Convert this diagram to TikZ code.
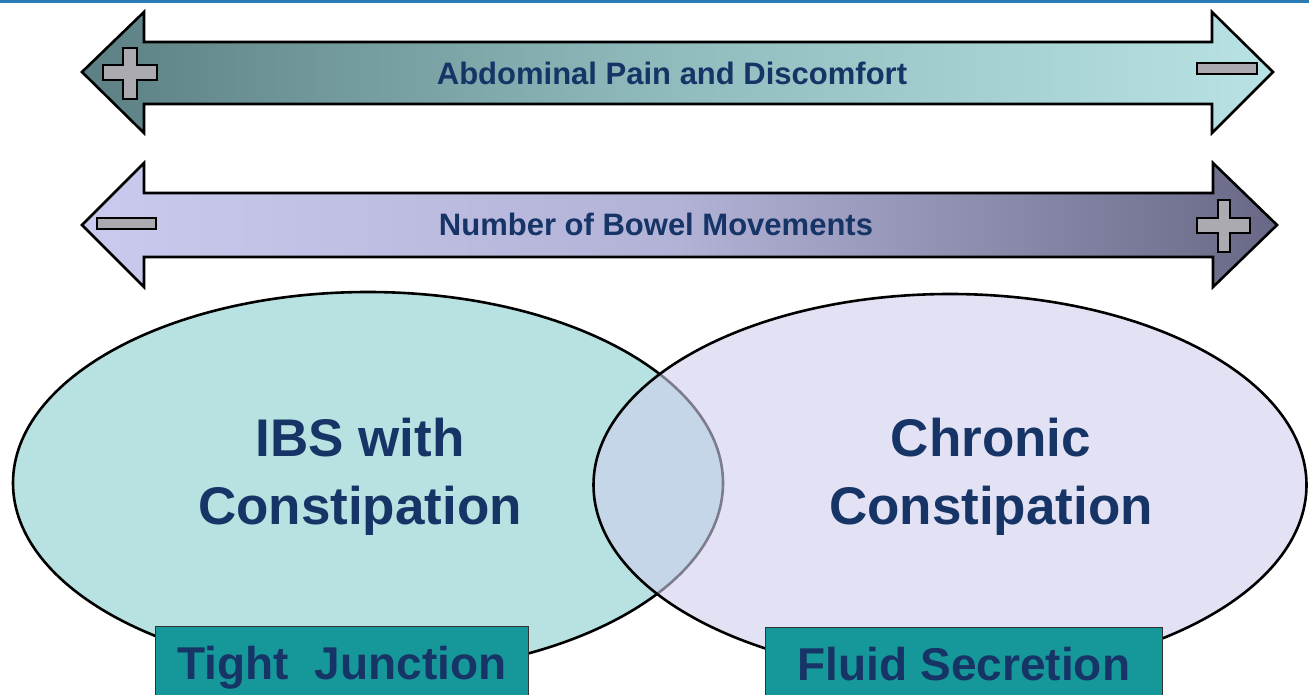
\documentclass[tikz,border=0pt]{standalone}
\usepackage{fontspec}
\setmainfont{Liberation Sans}
\usetikzlibrary{shapes.geometric}

\definecolor{navytext}{RGB}{22,52,102}
\definecolor{topline}{RGB}{42,122,182}
\definecolor{painleft}{RGB}{92,128,132}
\definecolor{painmid}{RGB}{145,188,190}
\definecolor{painright}{RGB}{184,226,228}
\definecolor{bowelleft}{RGB}{202,202,238}
\definecolor{bowelmid}{RGB}{178,178,214}
\definecolor{bowelright}{RGB}{104,104,134}
\definecolor{ibsfill}{RGB}{184,225,225}
\definecolor{ccfill}{RGB}{207,207,237}
\definecolor{signfill}{RGB}{170,170,176}
\definecolor{teal box}{RGB}{22,152,154}

\begin{document}
\begin{tikzpicture}[x=1pt, y=-1pt,
  barrow/.style={draw=black, line width=2.6pt},
  signbox/.style={draw=black, line width=1.6pt, fill=signfill},
  oval/.style={ellipse, draw=black, line width=2.6pt, inner sep=0pt},
  arrowtxt/.style={font=\fontsize{31}{31}\selectfont\bfseries, text=navytext, anchor=base, inner sep=0pt},
  ovaltxt/.style={font=\fontsize{53}{53}\selectfont\bfseries, text=navytext, anchor=base, inner sep=0pt},
  tagbox/.style={draw=black!80, line width=1pt, fill=teal box, anchor=north west,
    minimum width=373pt, minimum height=72pt, text height=33pt, text depth=0pt,
    font=\fontsize{46}{46}\selectfont\bfseries, text=navytext}]
\useasboundingbox (0,0) rectangle (1309,695);
\clip (0,0) rectangle (1309,695);
\fill[topline] (0,0) rectangle (1309,3);
% top arrow
\shadedraw[barrow, left color=painleft, right color=painright, middle color=painmid]
  (82,72) -- (144,12) -- (144,42) -- (1212,42) -- (1212,12) -- (1273,72)
  -- (1212,133) -- (1212,104) -- (144,104) -- (144,133) -- cycle;
\draw[signbox] (123,48) -- (137,48) -- (137,65) -- (157,65) -- (157,80) -- (137,80)
  -- (137,99) -- (123,99) -- (123,80) -- (103,80) -- (103,65) -- (123,65) -- cycle;
\draw[signbox] (1197,63) rectangle (1257,74);
\node[arrowtxt] (painlbl) at (672,85) {Abdominal Pain and Discomfort};
% second arrow
\shadedraw[barrow, left color=bowelleft, right color=bowelright, middle color=bowelmid]
  (82,225) -- (144,163) -- (144,193) -- (1213,193) -- (1213,163) -- (1277,225)
  -- (1213,287) -- (1213,257) -- (144,257) -- (144,287) -- cycle;
\draw[signbox] (97,218) rectangle (156,229);
\draw[signbox] (1218,200) -- (1230,200) -- (1230,218) -- (1250,218) -- (1250,233) -- (1230,233)
  -- (1230,252) -- (1218,252) -- (1218,233) -- (1197,233) -- (1197,218) -- (1218,218) -- cycle;
\node[arrowtxt] (bowellbl) at (656,236) {Number of Bowel Movements};
% the two groups
\node[oval, fill=ibsfill, minimum width=710pt, minimum height=382pt] (ibs) at (368,483) {};
\node[oval, fill=ccfill, fill opacity=0.6, minimum width=713pt, minimum height=382pt] (cc) at (950,485) {};
\node[ovaltxt] (ibsa) at (360,456) {IBS with};
\node[ovaltxt] (ibsb) at ([yshift=-68pt]ibsa.base) {Constipation};
\node[ovaltxt] (cca) at (991,456) {Chronic};
\node[ovaltxt] (ccb) at ([yshift=-68pt]cca.base) {Constipation};
% tags
\node[tagbox] (tight) at (155,626) {Tight\ \ Junction};
\node[tagbox, minimum width=397pt] (fluid) at (765,627) {Fluid Secretion};
\end{tikzpicture}
\end{document}
